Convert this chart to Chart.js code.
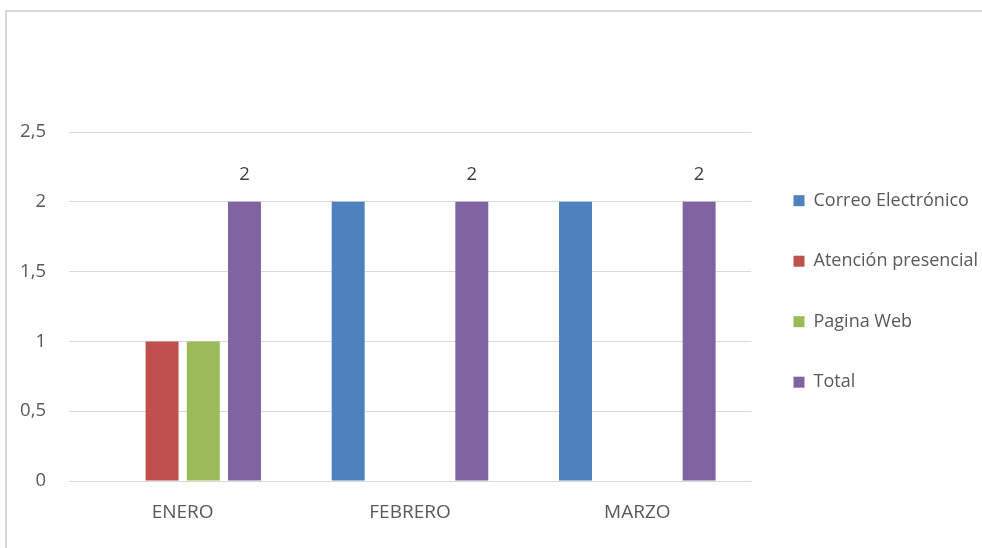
<!DOCTYPE html>
<html>
<head>
<meta charset="utf-8">
<script src="https://cdn.jsdelivr.net/npm/chart.js@4/dist/chart.umd.min.js"></script>
<style>
  html, body { margin: 0; padding: 0; background: #fff; overflow: hidden; width: 982px; height: 548px; }
  #hline { position: absolute; left: 5px; top: 10px; width: 977px; height: 2px; background: #d9d9d9; }
  #vline { position: absolute; left: 5px; top: 10px; width: 2px; height: 538px; background: #d9d9d9; }
  #wrap { position: absolute; left: 0; top: 0; width: 982px; height: 548px; }
</style>
</head>
<body>
<div id="hline"></div>
<div id="vline"></div>
<div id="wrap"><canvas id="chart" width="982" height="548"></canvas></div>
<script>
// values
const categories = ['ENERO', 'FEBRERO', 'MARZO'];
const correo    = [0, 2, 2];
const atencion  = [1, 0, 0];
const paginaWeb = [1, 0, 0];
const total     = [2, 2, 2];
const yTicks    = [0, 0.5, 1, 1.5, 2, 2.5];

const FONT = '"Open Sans", "Liberation Sans", sans-serif';
const FS = 18.5;

// labels on top of the Total bars only
const totalLabels = {
    id: 'totalLabels',
    afterDatasetsDraw(chart) {
        const ctx = chart.ctx;
        const meta = chart.getDatasetMeta(3);
        ctx.save();
        ctx.font = FS + 'px ' + FONT;
        ctx.fillStyle = '#404040';
        ctx.textAlign = 'center';
        ctx.textBaseline = 'middle';
        meta.data.forEach((bar, i) => {
            ctx.fillText(String(total[i]), bar.x, bar.y - 27);
        });
        ctx.restore();
    }
};

new Chart(document.getElementById('chart'), {
    type: 'bar',
    data: {
        labels: categories,
        datasets: [
            { label: 'Correo Electrónico',  data: correo,    backgroundColor: '#4F81BD' },
            { label: 'Atención presencial', data: atencion,  backgroundColor: '#C0504D' },
            { label: 'Pagina Web',          data: paginaWeb, backgroundColor: '#9BBB59' },
            { label: 'Total',               data: total,     backgroundColor: '#8064A2' }
        ]
    },
    options: {
        responsive: false,
        animation: false,
        datasets: { bar: { categoryPercentage: 0.725, barPercentage: 0.8 } },
        layout: { padding: { top: 132, left: 17, right: 0, bottom: 0 } },
        plugins: {
            tooltip: { enabled: false },
            legend: {
                position: 'right',
                align: 'start',
                maxWidth: 231,
                title: { display: true, text: '', font: { size: 1 }, padding: { top: 16, bottom: 0 } },
                labels: {
                    boxWidth: 11,
                    boxHeight: 11,
                    padding: 42.5,
                    color: '#595959',
                    font: { family: FONT, size: 18 }
                }
            }
        },
        scales: {
            x: {
                afterFit(scale) { scale.height = 67; },
                grid: { display: false, drawTicks: false },
                border: { display: false },
                ticks: { color: '#595959', padding: 20, maxRotation: 0, font: { family: FONT, size: 19 } }
            },
            y: {
                min: 0,
                max: 2.5,
                afterBuildTicks(scale) { scale.ticks = yTicks.map(v => ({ value: v })); },
                afterFit(scale) { scale.width = 52; },
                grid: { color: '#d9d9d9', lineWidth: 1, drawTicks: false },
                border: { display: false },
                ticks: {
                    color: '#595959',
                    padding: 23,
                    font: { family: FONT, size: FS },
                    callback: v => String(v).replace('.', ',')
                }
            }
        }
    },
    plugins: [totalLabels]
});
</script>
</body>
</html>
